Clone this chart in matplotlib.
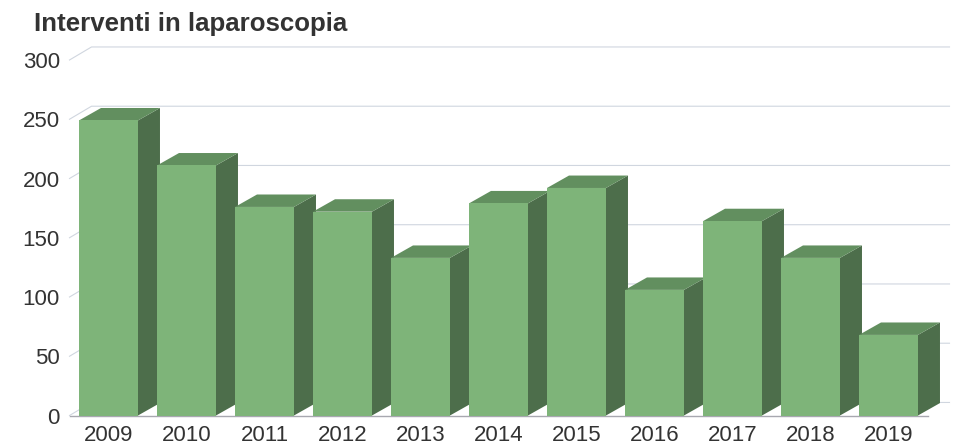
import matplotlib
matplotlib.use('Agg')
import matplotlib.pyplot as plt
from matplotlib.patches import Polygon

plt.rcParams['font.family'] = ['Liberation Sans', 'DejaVu Sans']

years = ['2009', '2010', '2011', '2012', '2013', '2014', '2015', '2016', '2017', '2018', '2019']
interventi = [249, 211, 176, 172, 133, 179, 192, 106, 164, 133, 68]
y_ticks = [0, 50, 100, 150, 200, 250, 300]

W, H = 955.0, 448.0
bar_w = 0.756
dx = 0.282   # depth of the 3d effect, in category units
dy = 11.0    # depth of the 3d effect, in value units
bar_dy = 10.5

fig = plt.figure(figsize=(9.55, 4.48), dpi=100)
ax = fig.add_axes([69.5 / W, 1 - 415.5 / H, 858.0 / W, 355.5 / H])
ax.set_xlim(-0.5, 10.5)
ax.set_ylim(0, 300)
for s in ax.spines.values():
    s.set_visible(False)

# back wall grid and side wall lines
for t in y_ticks:
    ax.plot([-0.5, -0.5 + dx, 10.5 + dx], [t, t + dy, t + dy], color='#d0d6df', lw=0.8,
            clip_on=False, zorder=1, solid_joinstyle='miter')
ax.plot([-0.5, 10.5], [0, 0], color='#a8a8b0', lw=1.0, clip_on=False, zorder=1.5)

for i, v in enumerate(interventi):
    l = i - bar_w / 2
    r = i + bar_w / 2
    z = 2 + i
    ax.add_patch(Polygon([(r, 0), (r + dx, bar_dy), (r + dx, v + bar_dy), (r, v)], facecolor='#4d6e4b',
                         edgecolor='none', clip_on=False, zorder=z))
    ax.add_patch(Polygon([(l, v), (l + dx, v + bar_dy), (r + dx, v + bar_dy), (r, v)], facecolor='#628f5f',
                         edgecolor='none', clip_on=False, zorder=z))
    ax.add_patch(Polygon([(l, 0), (r, 0), (r, v), (l, v)], facecolor='#7eb479',
                         edgecolor='none', clip_on=False, zorder=z + 0.5))

ax.set_xticks(range(len(years)))
ax.set_xticklabels(years)
ax.set_yticks(y_ticks)
ax.tick_params(length=0, labelsize=16, labelcolor='#333333')
ax.tick_params(axis='x', pad=6.5)
ax.tick_params(axis='y', pad=7)

fig.text(34 / W, 1 - 31 / H, 'Interventi in laparoscopia', fontsize=18.6, fontweight='bold',
         color='#333333', ha='left', va='baseline')

fig.savefig('out.png', dpi=100)
